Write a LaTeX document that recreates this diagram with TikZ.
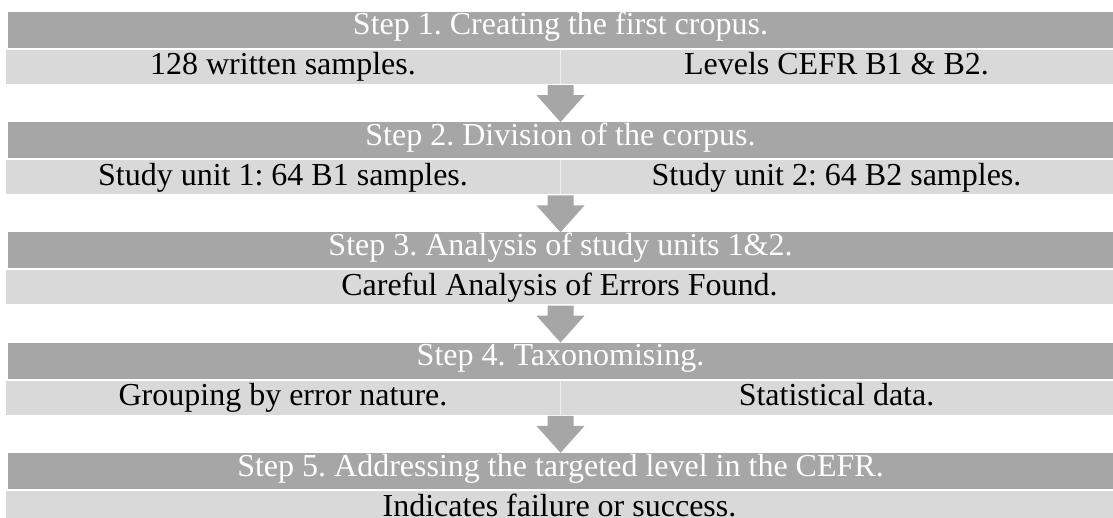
\documentclass[tikz,border=0pt]{standalone}
\usepackage{fontspec}
\setmainfont{Liberation Serif}
\usetikzlibrary{calc}
\definecolor{stepgray}{RGB}{166, 166, 166}
\definecolor{rowgray}{RGB}{217, 217, 217}
\frenchspacing

\begin{document}
\begin{tikzpicture}[x=1pt, y=-1pt,
    head/.style={fill=stepgray, text=white, inner sep=0pt, minimum width=1105,
      text height=23, text depth=13, font=\fontsize{32}{38}\selectfont},
    row/.style={fill=rowgray, inner sep=0pt, minimum width=1107,
      text height=25, text depth=9, font=\fontsize{32}{38}\selectfont},
    half/.style={inner sep=0pt, text height=25, text depth=9,
      font=\fontsize{32}{38}\selectfont},
    split/.style={draw=white!60!rowgray, line width=1.2pt}]
    \clip (0,0) rectangle (1113,518);
    \useasboundingbox (0,0) rectangle (1113,518);
    % step 1
    \node[head] (hd1) at (560.5,30) {Step 1. Creating the first cropus.};
    \node[row] (bd1) at (559.5,67) {};
    \draw[split] (hd1.center |- bd1.north) -- (hd1.center |- bd1.south);
    \node[half] (tx1a) at (283,67) {128 written samples.};
    \node[half] (tx1b) at (836.5,67) {Levels CEFR B1 \& B2.};
    % step 2
    \node[head] (hd2) at (560.5,140.25) {Step 2. Division of the corpus.};
    \node[row] (bd2) at (559.5,177.25) {};
    \draw[split] (hd2.center |- bd2.north) -- (hd2.center |- bd2.south);
    \node[half] (tx2a) at (283,177.25) {Study unit 1: 64 B1 samples.};
    \node[half] (tx2b) at (836.5,177.25) {Study unit 2: 64 B2 samples.};
    % step 3
    \node[head] (hd3) at (560.5,250.5) {Step 3. Analysis of study units 1\&2.};
    \node[row] (bd3) at (559.5,287.5) {Careful Analysis of Errors Found.};
    % step 4
    \node[head] (hd4) at (560.5,360.75) {Step 4. Taxonomising.};
    \node[row] (bd4) at (559.5,397.75) {};
    \draw[split] (hd4.center |- bd4.north) -- (hd4.center |- bd4.south);
    \node[half] (tx4a) at (283,397.75) {Grouping by error nature.};
    \node[half] (tx4b) at (836.5,397.75) {Statistical data.};
    % step 5
    \node[head] (hd5) at (560.5,471) {Step 5. Addressing the targeted level in the CEFR.};
    \node[row] (bd5) at (559.5,508) {Indicates failure or success.};
    % arrows between the steps
    \foreach \i/\j in {1/2,2/3,3/4,4/5}{
      \coordinate (s\i) at (hd\i.center |- bd\i.south);
      \fill[stepgray] ($(s\i)+(-13,1)$) -- ($(s\i)+(13,1)$) -- ($(s\i)+(13,11)$)
        -- ($(s\i)+(24,11)$) -- (hd\j.north) -- ($(s\i)+(-24,11)$)
        -- ($(s\i)+(-13,11)$) -- cycle;
    }
\end{tikzpicture}
\end{document}
